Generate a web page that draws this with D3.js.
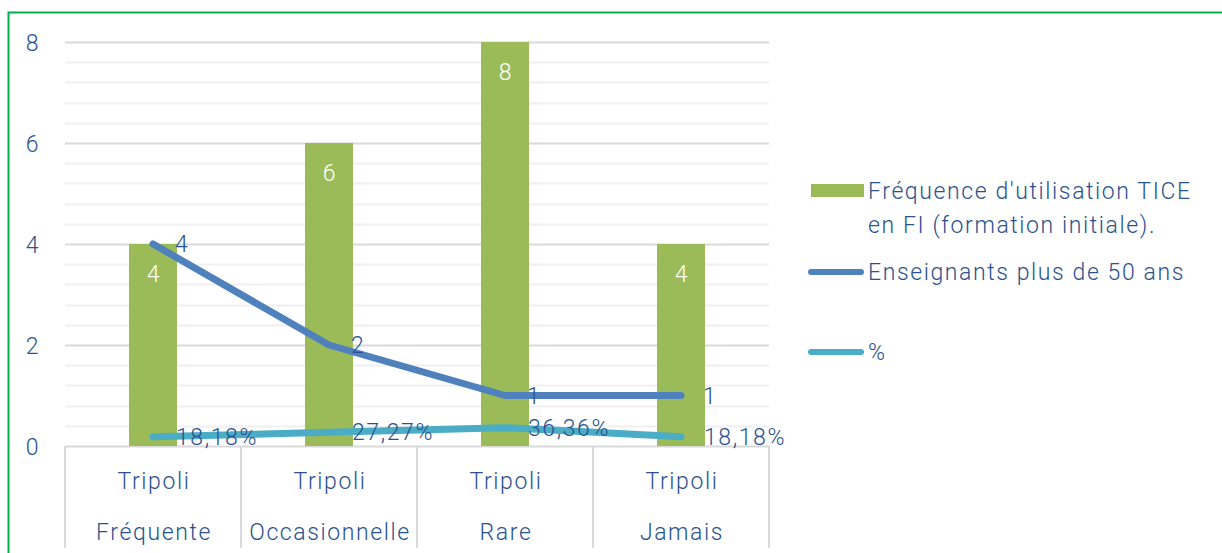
<!DOCTYPE html>
<html>
<head>
<meta charset="utf-8">
<script src="https://cdn.jsdelivr.net/npm/d3@7"></script>
<style>
  html, body { margin: 0; padding: 0; background: #fff; }
  svg { display: block; }
  text { font-family: Roboto, "Noto Sans", sans-serif; font-weight: 300; letter-spacing: 1.6px; }
</style>
</head>
<body>
<svg id="chart" width="1222" height="553"></svg>
<script>
// Categories (two-line labels)
const categoryTop = ["Tripoli", "Tripoli", "Tripoli", "Tripoli"];
const categoryBottom = ["Fréquente", "Occasionnelle", "Rare", "Jamais"];
// Series
const frequence = [4, 6, 8, 4];           // bars
const enseignants50 = [4, 2, 1, 1];       // blue line
const pourcentage = [0.1818, 0.2727, 0.3636, 0.1818]; // cyan line (fraction)
const pourcentageLabels = ["18,18%", "27,27%", "36,36%", "18,18%"];
const yTicks = [0, 2, 4, 6, 8];
const seriesNames = ["Fréquence d'utilisation TICE|en FI (formation initiale).", "Enseignants plus de 50 ans", "%"];

const W = 1222, H = 553;
const margin = { left: 65, right: 453, top: 42, bottom: 107 };
const plotW = W - margin.left - margin.right; // 704
const plotH = H - margin.top - margin.bottom; // 404
const FS = 23;

const svg = d3.select("#chart");
const textColor = "#2a5290";
const green = "#9bbb59", blue = "#4f81bd", cyan = "#4bacc6";

// frame
svg.append("path")
  .attr("d", `M8.5,${H} L8.5,12.5 L${W},12.5`)
  .attr("fill", "none").attr("stroke", "#00b050").attr("stroke-width", 2);

const x = d3.scaleBand().domain(d3.range(categoryTop.length))
  .range([margin.left, margin.left + plotW]).paddingInner(0).paddingOuter(0);
const y = d3.scaleLinear().domain([0, 8]).range([margin.top + plotH, margin.top]);

// minor gridlines
const minor = d3.range(0, 8.001, 0.4).filter(v => Math.abs(v / 2 - Math.round(v / 2)) > 1e-6);
svg.append("g").selectAll("line").data(minor).join("line")
  .attr("x1", margin.left).attr("x2", margin.left + plotW)
  .attr("y1", d => Math.round(y(d)) + 0.5).attr("y2", d => Math.round(y(d)) + 0.5)
  .attr("stroke", "#f0f0f0").attr("stroke-width", 2);
// major gridlines
svg.append("g").selectAll("line").data(yTicks).join("line")
  .attr("x1", margin.left).attr("x2", margin.left + plotW)
  .attr("y1", d => Math.round(y(d)) + 0.5).attr("y2", d => Math.round(y(d)) + 0.5)
  .attr("stroke", "#d9d9d9").attr("stroke-width", 2);

// y axis labels
const yAxis = d3.axisLeft(y).tickValues(yTicks).tickSize(0).tickPadding(0);
const gy = svg.append("g").attr("transform", `translate(40,0)`).call(yAxis);
gy.select(".domain").remove();
gy.selectAll("text").attr("font-size", FS).attr("fill", textColor)
  .attr("text-anchor", "middle").attr("dx", -7).attr("dy", "0.35em")
  .style("font-family", "Roboto, sans-serif").style("font-weight", 300);

// category dividers
const divs = d3.range(categoryTop.length + 1).map(i => margin.left + i * x.bandwidth());
svg.append("g").selectAll("line").data(divs).join("line")
  .attr("x1", d => d).attr("x2", d => d)
  .attr("y1", y(0)).attr("y2", 548)
  .attr("stroke", "#d9d9d9").attr("stroke-width", 2);

// category labels
const cat = svg.append("g").selectAll("g").data(d3.range(categoryTop.length)).join("g");
cat.append("text").attr("x", i => x(i) + x.bandwidth() / 2 + 1).attr("y", 481)
  .attr("dy", "0.35em").attr("text-anchor", "middle").attr("font-size", FS)
  .attr("fill", textColor).text(i => categoryTop[i]);
cat.append("text").attr("x", i => x(i) + x.bandwidth() / 2 + 1).attr("y", 532)
  .attr("dy", "0.35em").attr("text-anchor", "middle").attr("font-size", FS)
  .attr("fill", textColor).text(i => categoryBottom[i]);

// bars
const barW = 48;
svg.append("g").selectAll("rect").data(frequence).join("rect")
  .attr("x", (d, i) => x(i) + x.bandwidth() / 2 - barW / 2)
  .attr("width", barW)
  .attr("y", d => y(d)).attr("height", d => y(0) - y(d))
  .attr("fill", green);
svg.append("g").selectAll("text").data(frequence).join("text")
  .attr("x", (d, i) => x(i) + x.bandwidth() / 2 + 1)
  .attr("y", d => y(d) + 30).attr("dy", "0.35em")
  .attr("text-anchor", "middle").attr("font-size", FS).attr("fill", "#fff")
  .text(d => d);

// lines
const cx = i => x(i) + x.bandwidth() / 2;
const line = d3.line().x((d, i) => cx(i)).y(d => y(d));
svg.append("path").datum(pourcentage).attr("d", line)
  .attr("fill", "none").attr("stroke", cyan).attr("stroke-width", 7)
  .attr("stroke-linecap", "round").attr("stroke-linejoin", "round");
svg.append("path").datum(enseignants50).attr("d", line)
  .attr("fill", "none").attr("stroke", blue).attr("stroke-width", 7)
  .attr("stroke-linecap", "round").attr("stroke-linejoin", "round");

// line labels
svg.append("g").selectAll("text").data(enseignants50).join("text")
  .attr("x", (d, i) => cx(i) + 22).attr("y", d => y(d)).attr("dy", "0.35em")
  .attr("font-size", FS).attr("fill", textColor).text(d => d);
svg.append("g").selectAll("text").data(pourcentage).join("text")
  .attr("x", (d, i) => cx(i) + 23).attr("y", d => y(d)).attr("dy", "0.35em")
  .attr("font-size", FS).attr("fill", textColor).text((d, i) => pourcentageLabels[i]);

// legend
const lg = svg.append("g");
lg.append("rect").attr("x", 811).attr("y", 184).attr("width", 53).attr("height", 13).attr("fill", green);
const l1 = seriesNames[0].split("|");
lg.append("text").attr("x", 868).attr("y", 191).attr("dy", "0.35em").attr("font-size", FS)
  .attr("fill", textColor).text(l1[0]);
lg.append("text").attr("x", 868).attr("y", 225).attr("dy", "0.35em").attr("font-size", FS)
  .attr("fill", textColor).text(l1[1]);
[[blue, 272, seriesNames[1]], [cyan, 352, seriesNames[2]]].forEach(([c, yy, t]) => {
  lg.append("line").attr("x1", 811).attr("x2", 861).attr("y1", yy).attr("y2", yy)
    .attr("stroke", c).attr("stroke-width", 6).attr("stroke-linecap", "round");
  lg.append("text").attr("x", 868).attr("y", yy).attr("dy", "0.35em").attr("font-size", FS)
    .attr("fill", textColor).text(t);
});
</script>
</body>
</html>
